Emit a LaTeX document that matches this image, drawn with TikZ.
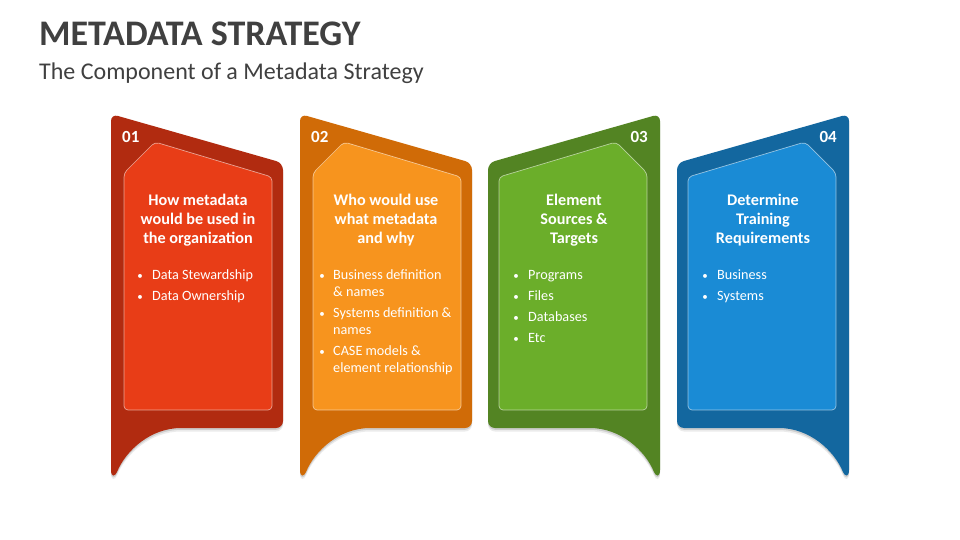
\documentclass[tikz,border=0pt]{standalone}
\usepackage{fontspec}
\setmainfont{Carlito}
\definecolor{titlegray}{HTML}{404040}
\definecolor{rOut}{HTML}{B12B10}
\definecolor{rIn}{HTML}{E83D17}
\definecolor{oOut}{HTML}{D06B07}
\definecolor{oIn}{HTML}{F7941E}
\definecolor{gOut}{HTML}{538423}
\definecolor{gIn}{HTML}{6BAE2A}
\definecolor{bOut}{HTML}{13679F}
\definecolor{bIn}{HTML}{1A8BD5}
\newcommand\cardouter{(0,300) [rounded corners=7] -- (0,114) -- (172,163) -- (172,428) -- (78,428) -- (77,428) [sharp corners] .. controls (40,428) and (15,450) .. (6,472) .. controls (4,477) and (0,477) .. (0,470) -- cycle}
\newcommand\cardinner{(13,300) [rounded corners=4] -- (13,173) -- (44,142) -- (161,177) -- (161,410) -- (13,410) -- cycle}
\newcommand\mycard[4]{%
\begin{scope}[shift={(#1,0)},xscale=#2]
 \fill[black,opacity=0.08,yshift=-3.5pt] \cardouter;
 \fill[black,opacity=0.12,yshift=-1.8pt] \cardouter;
 \fill[#3] \cardouter;
 \filldraw[fill=#4,draw=white,draw opacity=0.55,line width=0.7pt] \cardinner;
\end{scope}}
\tikzset{
 head/.style={anchor=base,inner sep=0,text=white,font=\fontsize{16.2}{19}\selectfont\bfseries},
 num/.style={inner sep=0,text=white,font=\fontsize{17}{18}\selectfont\bfseries},
 bul/.style={anchor=base,inner sep=0,text=white,font=\fontsize{11}{13}\selectfont},
 btxt/.style={anchor=base west,inner sep=0,text=white,font=\fontsize{14.2}{17}\selectfont},
}
\begin{document}
\begin{tikzpicture}[x=1pt,y=-1pt]
\useasboundingbox[fill=white] (0,0) rectangle (960,540);
\node[anchor=base west,inner sep=0,text=titlegray,font=\fontsize{36}{40}\selectfont\bfseries] (title) at (39,46) {METADATA STRATEGY};
\node[anchor=base west,inner sep=0,text=titlegray,font=\fontsize{24}{28}\selectfont] (subtitle) at (39,80) {The Component of a Metadata Strategy};
% cards
\mycard{111}{1}{rOut}{rIn}
\mycard{300}{1}{oOut}{oIn}
\mycard{660}{-1}{gOut}{gIn}
\mycard{849}{-1}{bOut}{bIn}
% numbers
\node[num,anchor=base west] (n1) at (122,143) {01};
\node[num,anchor=base west] (n2) at (311,143) {02};
\node[num,anchor=base east] (n3) at (648,143) {03};
\node[num,anchor=base east] (n4) at (837,143) {04};
% headings
\foreach \t [count=\i] in {How metadata,would be used in,the organization}
  \node[head] (ha\i) at (198,{205+19*(\i-1)}) {\t};
\foreach \t [count=\i] in {Who would use,what metadata,and why}
  \node[head] (hb\i) at (386,{205+19*(\i-1)}) {\t};
\foreach \t [count=\i] in {Element,Sources \&,Targets}
  \node[head] (hc\i) at (574,{205+19*(\i-1)}) {\t};
\foreach \t [count=\i] in {Determine,Training,Requirements}
  \node[head] (hd\i) at (763,{205+19*(\i-1)}) {\t};
% bullets card 1
\foreach \t/\y [count=\i] in {Data Stewardship/279,Data Ownership/300}{
  \node[bul] (ba\i) at (140,\y) {•};
  \node[btxt] (ta\i) at (152,\y) {\t};}
% bullets card 2
\foreach \y [count=\i] in {279,317,355}
  \node[bul] (bb\i) at (322,\y) {•};
\foreach \t/\y [count=\i] in {Business definition/279,\& names/296,Systems definition \&/317,names/334,CASE models \&/355,element relationship/372}
  \node[btxt] (tb\i) at (333,\y) {\t};
% bullets card 3
\foreach \t/\y [count=\i] in {Programs/279,Files/300,Databases/321,Etc/342}{
  \node[bul] (bc\i) at (516,\y) {•};
  \node[btxt] (tc\i) at (528,\y) {\t};}
% bullets card 4
\foreach \t/\y [count=\i] in {Business/279,Systems/300}{
  \node[bul] (bd\i) at (705,\y) {•};
  \node[btxt] (td\i) at (717,\y) {\t};}
\end{tikzpicture}
\end{document}
